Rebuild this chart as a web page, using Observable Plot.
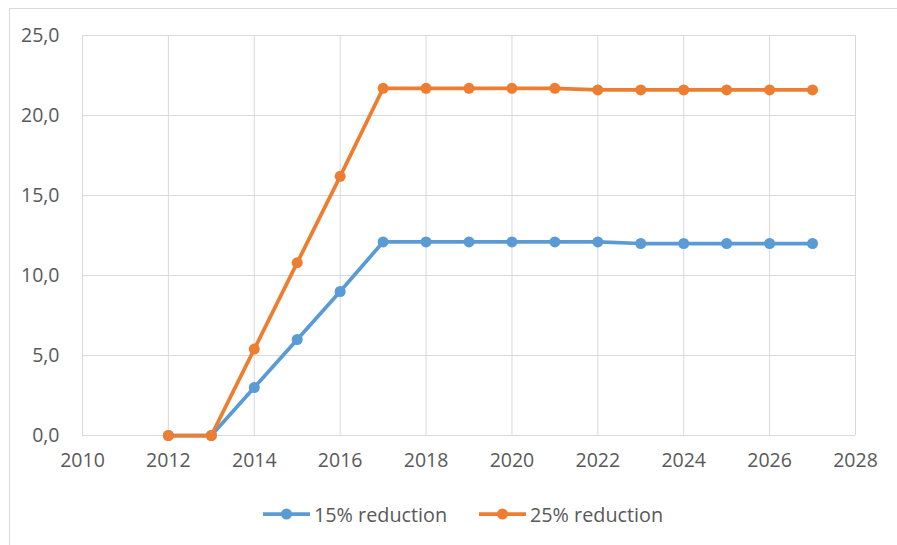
<!DOCTYPE html>
<html>
<head>
<meta charset="utf-8">
<script src="https://cdn.jsdelivr.net/npm/d3@7"></script>
<script src="https://cdn.jsdelivr.net/npm/@observablehq/plot@0.6"></script>
<style>
  html, body { margin: 0; padding: 0; background: #fff; overflow: hidden; }
  #wrap { position: relative; width: 897px; height: 545px; overflow: hidden; font-family: "Open Sans", sans-serif; }
  #frame { position: absolute; left: 9px; top: 8px; width: 1000px; height: 1000px; border: 1px solid #d9d9d9; box-sizing: border-box; }
  #chart { position: absolute; left: 0; top: 0; }
  #legend { position: absolute; top: 501px; left: 0; width: 897px; height: 26px; font-size: 19.8px; color: #595959; }
  .item { position: absolute; top: 0; display: flex; align-items: center; height: 26px; }
  .item svg { margin-right: 3px; }
</style>
</head>
<body>
<div id="wrap">
  <div id="frame"></div>
  <div id="chart"></div>
  <div id="legend"></div>
</div>
<script>
// Annual values for the two reduction scenarios
const years = [2012, 2013, 2014, 2015, 2016, 2017, 2018, 2019, 2020, 2021, 2022, 2023, 2024, 2025, 2026, 2027];
const reduction15 = [0, 0, 3.0, 6.0, 9.0, 12.1, 12.1, 12.1, 12.1, 12.1, 12.1, 12.0, 12.0, 12.0, 12.0, 12.0];
const reduction25 = [0, 0, 5.4, 10.8, 16.2, 21.7, 21.7, 21.7, 21.7, 21.7, 21.6, 21.6, 21.6, 21.6, 21.6, 21.6];
const seriesNames = ["15% reduction", "25% reduction"];
const seriesColors = ["#5b9bd5", "#ed7d31"];
const xTicks = [2010, 2012, 2014, 2016, 2018, 2020, 2022, 2024, 2026, 2028];
const yTicks = [0, 5, 10, 15, 20, 25];

const rows = [
  ...years.map((year, i) => ({year, value: reduction15[i], series: seriesNames[0]})),
  ...years.map((year, i) => ({year, value: reduction25[i], series: seriesNames[1]}))
];

const fmtY = d => d.toFixed(1).replace(".", ",");

const chart = Plot.plot({
  width: 897,
  height: 490,
  marginLeft: 82,
  marginRight: 42,
  marginTop: 35,
  marginBottom: 55,
  style: {fontFamily: "Open Sans, sans-serif", fontSize: "19.5px", color: "#595959", background: "transparent"},
  x: {domain: [2010, 2028], ticks: xTicks, tickFormat: d => String(d), tickSize: 0, tickPadding: 18, label: null},
  y: {domain: [0, 25], ticks: yTicks, tickFormat: fmtY, tickSize: 0, tickPadding: 23, label: null},
  color: {domain: seriesNames, range: seriesColors},
  marks: [
    Plot.gridX(xTicks, {stroke: "#d9d9d9", strokeOpacity: 1, strokeWidth: 1}),
    Plot.gridY(yTicks, {stroke: "#d9d9d9", strokeOpacity: 1, strokeWidth: 1}),
    Plot.axisX({ticks: xTicks, tickFormat: d => String(d), tickSize: 0, tickPadding: 18, label: null}),
    Plot.axisY({ticks: yTicks, tickFormat: fmtY, tickSize: 0, tickPadding: 23, label: null}),
    Plot.line(rows, {x: "year", y: "value", z: "series", stroke: "series", strokeWidth: 3.75, strokeLinejoin: "round", strokeLinecap: "round"}),
    Plot.dot(rows, {x: "year", y: "value", fill: "series", r: 5.5})
  ]
});
document.getElementById("chart").appendChild(chart);

// Legend below the plot
const legend = document.getElementById("legend");
const legendLeft = [262, 478];
seriesNames.forEach((name, i) => {
  const item = document.createElement("div");
  item.className = "item";
  item.style.left = legendLeft[i] + "px";
  item.innerHTML = `<svg width="49" height="14"><line x1="1" x2="48" y1="7" y2="7" stroke="${seriesColors[i]}" stroke-width="3.75"/><circle cx="24.5" cy="7" r="5.5" fill="${seriesColors[i]}"/></svg><span>${name}</span>`;
  legend.appendChild(item);
});
</script>
</body>
</html>
